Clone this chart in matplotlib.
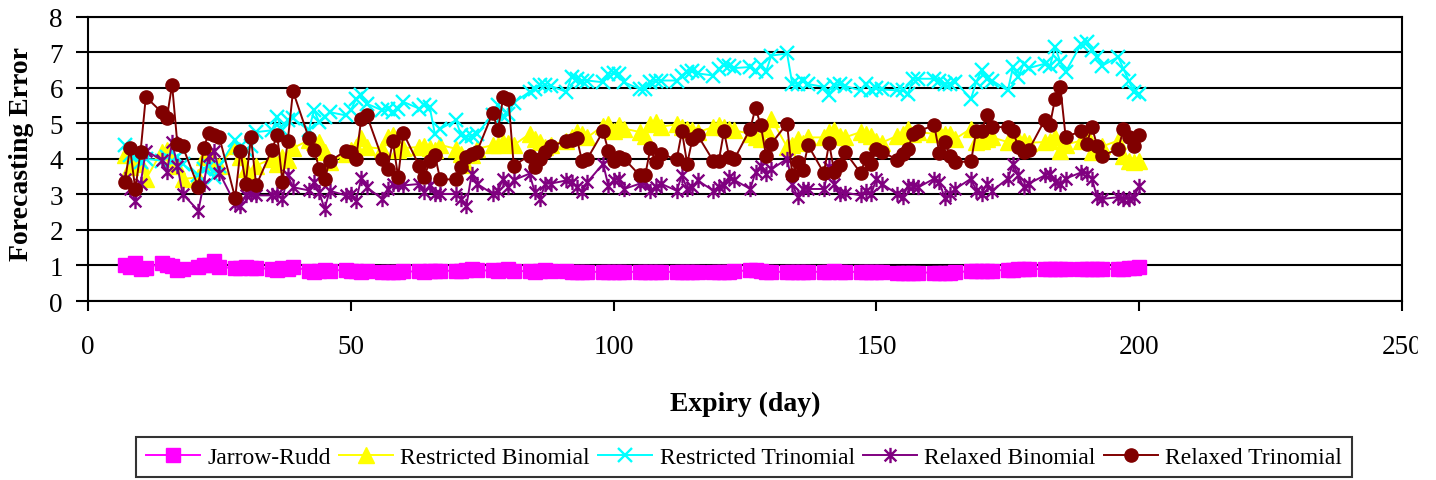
import matplotlib
matplotlib.use("Agg")
import matplotlib.pyplot as plt
from matplotlib.path import Path
from matplotlib.patches import Rectangle

plt.rcParams['font.family'] = ['Liberation Serif', 'DejaVu Serif']

# trading days (expiry in days)
days = [7, 8, 9, 10, 11, 14, 15, 16, 17, 18, 21, 22, 23, 24, 25,
        28, 29, 30, 31, 32, 35, 36, 37, 38, 39, 42, 43, 44, 45, 46,
        49, 50, 51, 52, 53, 56, 57, 58, 59, 60, 63, 64, 65, 66, 67,
        70, 71, 72, 73, 74, 77, 78, 79, 80, 81, 84, 85, 86, 87, 88,
        91, 92, 93, 94, 95, 98, 99, 100, 101, 102, 105, 106, 107, 108, 109,
        112, 113, 114, 115, 116, 119, 120, 121, 122, 123, 126, 127, 128, 129, 130,
        133, 134, 135, 136, 137, 140, 141, 142, 143, 144, 147, 148, 149, 150, 151,
        154, 155, 156, 157, 158, 161, 162, 163, 164, 165, 168, 169, 170, 171, 172,
        175, 176, 177, 178, 179, 182, 183, 184, 185, 186, 189, 190, 191, 192, 193,
        196, 197, 198, 199, 200]

jarrow_rudd = [1.02, 0.95, 1.07, 0.90, 0.92, 1.07, 1.02, 0.98, 0.88, 0.90,
               0.95, 1.00, 1.02, 1.12, 0.95, 0.93, 0.93, 0.95, 0.92, 0.93,
               0.90, 0.88, 0.92, 0.90, 0.97, 0.85, 0.82, 0.85, 0.88, 0.85,
               0.88, 0.85, 0.84, 0.82, 0.84, 0.82, 0.82, 0.82, 0.82, 0.83,
               0.83, 0.82, 0.83, 0.85, 0.85, 0.85, 0.85, 0.88, 0.90, 0.86,
               0.86, 0.84, 0.88, 0.90, 0.84, 0.84, 0.82, 0.84, 0.86, 0.84,
               0.84, 0.82, 0.82, 0.82, 0.82, 0.82, 0.82, 0.82, 0.82, 0.82,
               0.82, 0.82, 0.82, 0.82, 0.82, 0.82, 0.82, 0.82, 0.82, 0.82,
               0.82, 0.82, 0.82, 0.82, 0.84, 0.86, 0.88, 0.84, 0.82, 0.82,
               0.82, 0.82, 0.82, 0.82, 0.82, 0.82, 0.82, 0.83, 0.82, 0.82,
               0.82, 0.82, 0.82, 0.82, 0.82, 0.80, 0.80, 0.80, 0.80, 0.80,
               0.80, 0.80, 0.80, 0.80, 0.81, 0.84, 0.85, 0.85, 0.85, 0.85,
               0.88, 0.88, 0.90, 0.90, 0.90, 0.90, 0.90, 0.90, 0.90, 0.90,
               0.90, 0.90, 0.90, 0.90, 0.90, 0.90, 0.90, 0.92, 0.93, 0.97]

restricted_binomial = [4.10, 3.77, 3.95, 3.85, 3.43, 4.19, 4.25, 4.00, 3.80, 3.43,
                       3.48, 4.05, 4.19, 3.90, 3.80, 4.37, 4.05, 3.72, 3.39, 3.81,
                       4.00, 3.85, 4.05, 3.96, 4.30, 4.52, 4.47, 4.47, 4.20, 3.90,
                       4.13, 4.25, 4.33, 4.58, 4.33, 4.28, 4.60, 4.66, 4.24, 4.30,
                       4.33, 4.36, 4.30, 4.25, 4.39, 4.28, 4.14, 3.83, 4.10, 4.28,
                       4.38, 4.38, 4.47, 4.45, 4.38, 4.70, 4.56, 4.47, 4.33, 4.40,
                       4.50, 4.60, 4.75, 4.70, 4.60, 4.93, 4.97, 4.78, 4.94, 4.85,
                       4.75, 4.65, 4.97, 5.02, 4.90, 4.97, 4.89, 4.84, 4.80, 4.75,
                       4.89, 4.94, 4.90, 4.84, 4.80, 4.70, 4.60, 4.56, 4.85, 5.13,
                       4.33, 4.40, 4.55, 4.45, 4.60, 4.60, 4.75, 4.80, 4.65, 4.60,
                       4.75, 4.70, 4.65, 4.50, 4.45, 4.65, 4.70, 4.85, 4.70, 4.75,
                       4.70, 4.75, 4.70, 4.70, 4.56, 4.85, 4.47, 4.51, 4.55, 4.60,
                       4.47, 4.51, 4.56, 4.50, 4.45, 4.47, 4.50, 4.61, 4.23, 4.40,
                       4.51, 4.66, 4.18, 4.28, 4.35, 4.51, 4.09, 3.95, 3.90, 3.95]

restricted_trinomial = [4.38, 4.10, 4.05, 3.90, 4.00, 3.95, 4.05, 3.95, 4.05, 3.85,
                        3.53, 3.72, 3.81, 3.48, 3.80, 4.52, 4.33, 4.24, 4.35, 4.75,
                        4.80, 5.17, 4.80, 5.08, 5.14, 4.80, 5.36, 5.03, 5.17, 5.31,
                        5.22, 5.36, 5.69, 5.78, 5.55, 5.36, 5.41, 5.31, 5.41, 5.60,
                        5.41, 5.50, 5.46, 4.70, 4.84, 5.08, 4.66, 4.61, 4.65, 4.70,
                        5.24, 5.50, 5.20, 5.27, 5.58, 5.88, 5.96, 6.06, 6.06, 6.05,
                        5.88, 6.30, 6.25, 6.20, 6.20, 6.15, 6.39, 6.40, 6.39, 6.15,
                        5.96, 5.96, 6.15, 6.20, 6.20, 6.20, 6.34, 6.44, 6.48, 6.40,
                        6.34, 6.53, 6.63, 6.60, 6.55, 6.58, 6.48, 6.63, 6.45, 6.90,
                        6.96, 6.11, 6.11, 6.20, 6.10, 6.02, 5.78, 6.06, 6.11, 6.05,
                        5.92, 6.11, 5.92, 6.00, 5.95, 5.92, 5.92, 5.83, 6.25, 6.25,
                        6.25, 6.20, 6.11, 6.11, 6.16, 5.69, 6.16, 6.49, 6.25, 6.20,
                        5.92, 6.58, 6.30, 6.67, 6.55, 6.67, 6.60, 7.14, 6.72, 6.44,
                        7.24, 7.29, 7.05, 6.86, 6.62, 6.86, 6.53, 6.20, 5.87, 5.83]

relaxed_binomial = [3.44, 3.15, 2.82, 3.29, 4.23, 3.96, 3.62, 4.47, 3.81, 3.01,
                    2.54, 3.29, 4.09, 4.23, 3.60, 2.73, 2.68, 2.97, 3.00, 2.97,
                    2.97, 3.01, 2.87, 3.53, 3.20, 3.11, 3.34, 3.06, 2.59, 3.10,
                    2.97, 3.01, 2.82, 3.46, 3.20, 2.87, 3.15, 3.29, 3.29, 3.25,
                    3.29, 3.06, 3.25, 3.01, 3.01, 3.01, 2.87, 2.68, 3.58, 3.30,
                    3.01, 3.10, 3.44, 3.20, 3.40, 3.58, 3.06, 2.87, 3.30, 3.30,
                    3.39, 3.34, 3.20, 3.06, 3.34, 3.86, 3.24, 3.39, 3.44, 3.15,
                    3.30, 3.34, 3.10, 3.20, 3.30, 3.10, 3.53, 3.15, 3.20, 3.39,
                    3.10, 3.20, 3.25, 3.49, 3.40, 3.15, 3.62, 3.81, 3.58, 3.70,
                    4.00, 3.30, 2.92, 3.15, 3.15, 3.15, 3.76, 3.30, 3.00, 3.05,
                    2.97, 3.10, 3.00, 3.44, 3.30, 3.00, 2.92, 3.24, 3.24, 3.20,
                    3.44, 3.34, 2.89, 3.00, 3.15, 3.44, 3.10, 3.00, 3.29, 3.10,
                    3.44, 3.86, 3.53, 3.20, 3.30, 3.53, 3.58, 3.34, 3.29, 3.44,
                    3.62, 3.58, 3.44, 2.92, 2.87, 2.92, 2.87, 2.87, 2.92, 3.24]

relaxed_trinomial = [3.34, 4.30, 3.14, 4.20, 5.74, 5.31, 5.15, 6.08, 4.42, 4.35,
                     3.20, 4.31, 4.72, 4.66, 4.60, 2.90, 4.23, 3.30, 4.61, 3.25,
                     4.26, 4.66, 3.36, 4.49, 5.90, 4.59, 4.26, 3.72, 3.42, 3.93,
                     4.22, 4.19, 4.00, 5.13, 5.24, 4.00, 3.72, 4.50, 3.49, 4.72,
                     3.81, 3.49, 3.93, 4.11, 3.42, 3.42, 3.77, 4.05, 4.14, 4.20,
                     5.29, 4.80, 5.74, 5.67, 3.81, 4.09, 3.77, 4.00, 4.20, 4.36,
                     4.49, 4.52, 4.58, 3.93, 4.00, 4.77, 4.23, 3.95, 4.05, 4.00,
                     3.53, 3.53, 4.29, 3.91, 4.14, 3.98, 4.77, 3.86, 4.56, 4.66,
                     3.93, 3.93, 4.77, 4.05, 4.00, 4.84, 5.43, 4.94, 4.09, 4.42,
                     4.99, 3.53, 3.90, 3.69, 4.38, 3.60, 4.43, 3.62, 3.83, 4.20,
                     3.60, 4.03, 3.86, 4.27, 4.20, 3.97, 4.13, 4.27, 4.71, 4.78,
                     4.94, 4.15, 4.48, 4.09, 3.90, 3.93, 4.77, 4.77, 5.22, 4.89,
                     4.89, 4.77, 4.33, 4.20, 4.25, 5.08, 4.94, 5.69, 6.02, 4.62,
                     4.77, 4.42, 4.89, 4.37, 4.09, 4.27, 4.83, 4.60, 4.37, 4.66]

# Excel style star marker: x with a vertical bar
star = Path([(-1, -1), (1, 1), (-1, 1), (1, -1), (0, -1.3), (0, 1.3)],
            [Path.MOVETO, Path.LINETO, Path.MOVETO, Path.LINETO, Path.MOVETO, Path.LINETO])

fig = plt.figure(figsize=(14.36, 4.81), dpi=100)
ax = fig.add_axes([88 / 1436, 1 - 302 / 481, (1402 - 88) / 1436, (302 - 17.5) / 481])

lw = 1.4
ax.plot(days, jarrow_rudd, color='#FF00FF', lw=lw, marker='s', ms=9.5, mec='#FF00FF', label='Jarrow-Rudd')
ax.plot(days, restricted_binomial, color='#FFFF00', lw=lw, marker='^', ms=11, mec='#FFFF00', label='Restricted Binomial')
ax.plot(days, restricted_trinomial, color='#00FFFF', lw=lw, marker='x', ms=9.5, mew=1.7, label='Restricted Trinomial')
ax.plot(days, relaxed_binomial, color='#800080', lw=lw, marker=star, ms=11, mew=1.7, mfc='none', label='Relaxed Binomial')
ax.plot(days, relaxed_trinomial, color='#800000', lw=lw, marker='o', ms=9.5, mec='#800000', label='Relaxed Trinomial')

ax.set_xlim(0, 250)
ax.set_ylim(0, 8)
ax.set_xticks([0, 50, 100, 150, 200, 250])
ax.set_yticks(range(0, 9))
ax.yaxis.grid(True, color='black', lw=1.5)
ax.set_axisbelow(True)
for s in ax.spines.values():
    s.set_color('black')
    s.set_linewidth(1.5)
ax.tick_params(axis='x', direction='out', length=7, width=1.5, labelsize=19.5, pad=17)
ax.tick_params(axis='y', direction='out', length=9, width=1.5, labelsize=19.5, pad=9)

ax.set_xlabel('Expiry (day)', fontsize=20, fontweight='bold')
ax.xaxis.set_label_coords(0.5, -0.316)
ax.set_ylabel('Forecasting Error', fontsize=20, fontweight='bold')
ax.yaxis.set_label_coords(-0.041, 0.52)

leg = ax.legend(loc='center', bbox_to_anchor=(744 / 1436, 1 - 458 / 481),
                bbox_transform=fig.transFigure, ncol=5, fontsize=17, frameon=True,
                fancybox=False, edgecolor='black', handlelength=2.3,
                handletextpad=0.3, columnspacing=0.35, borderpad=0.4,
                borderaxespad=0)
leg.get_frame().set_linewidth(1.5)

# the original picture is cut off just after the "250" label begins
fig.add_artist(Rectangle((1418 / 1436, 0.2), 1, 0.2, transform=fig.transFigure,
                         color='white', zorder=10))

fig.savefig('out.png', dpi=100)
